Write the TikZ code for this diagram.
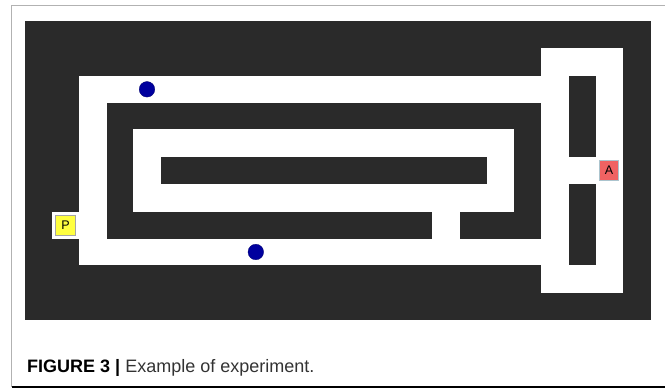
\documentclass[tikz,border=0pt]{standalone}
\usepackage{fontspec}
\setmainfont{Liberation Sans}
\usetikzlibrary{positioning}
\definecolor{walldark}{RGB}{42,42,42}
\definecolor{ballblue}{RGB}{0,0,158}
\definecolor{predyellow}{RGB}{255,255,64}
\definecolor{agentred}{RGB}{240,98,98}

\begin{document}
\begin{tikzpicture}[x=1pt,y=-1pt,
  wall/.style={fill=walldark},
  floor/.style={fill=white},
  ball node/.style={circle,fill=ballblue,draw=ballblue!70!black,line width=0.3pt,minimum size=15.6pt,inner sep=0pt},
  mark node/.style={rectangle,draw=gray!70,line width=0.6pt,minimum width=19.5pt,minimum height=19.5pt,inner sep=0pt,font=\fontsize{12.5}{12.5}\selectfont}]

  \useasboundingbox (0,0) rectangle (665,388);

  % frame of the figure
  \draw[gray!60,line width=1pt] (665,5) -- (11.5,5) -- (11.5,387);
  \draw[black,line width=1.2pt] (11.5,387) -- (665,387);

  % maze
  \fill[wall] (25,21) rectangle (651,320);
  \fill[floor] (79.3,75.5) rectangle (541,265.3);
  \fill[floor] (541,48.3) rectangle (622.7,293.3);
  \fill[floor] (52.3,211.7) rectangle (79.3,239.3);
  \fill[wall] (106.7,103.3) rectangle (541,238.5);
  \fill[floor] (133.3,129.3) rectangle (514.3,211.7);
  \fill[floor] (432.3,211) rectangle (460.3,238.5);
  \fill[wall] (161,157.3) rectangle (486.5,184);
  \fill[wall] (569,75.7) rectangle (596,156.7);
  \fill[wall] (569,184.3) rectangle (596,265.3);

  \node[ball node] (b1) at (147,89.3) {};
  \node[ball node] (b2) at (255.8,252) {};

  \node[mark node,fill=predyellow] (p) at (65.5,225.2) {P};
  \node[mark node,fill=agentred,draw=cyan!30!gray!60] (a) at (609,170.5) {A};

  \node[anchor=base west,inner sep=0pt,font=\fontsize{18}{19}\selectfont] (cap) at (27,372)
    {\textbf{FIGURE 3 |} {\color{black!80}Example of experiment.}};

\end{tikzpicture}
\end{document}
